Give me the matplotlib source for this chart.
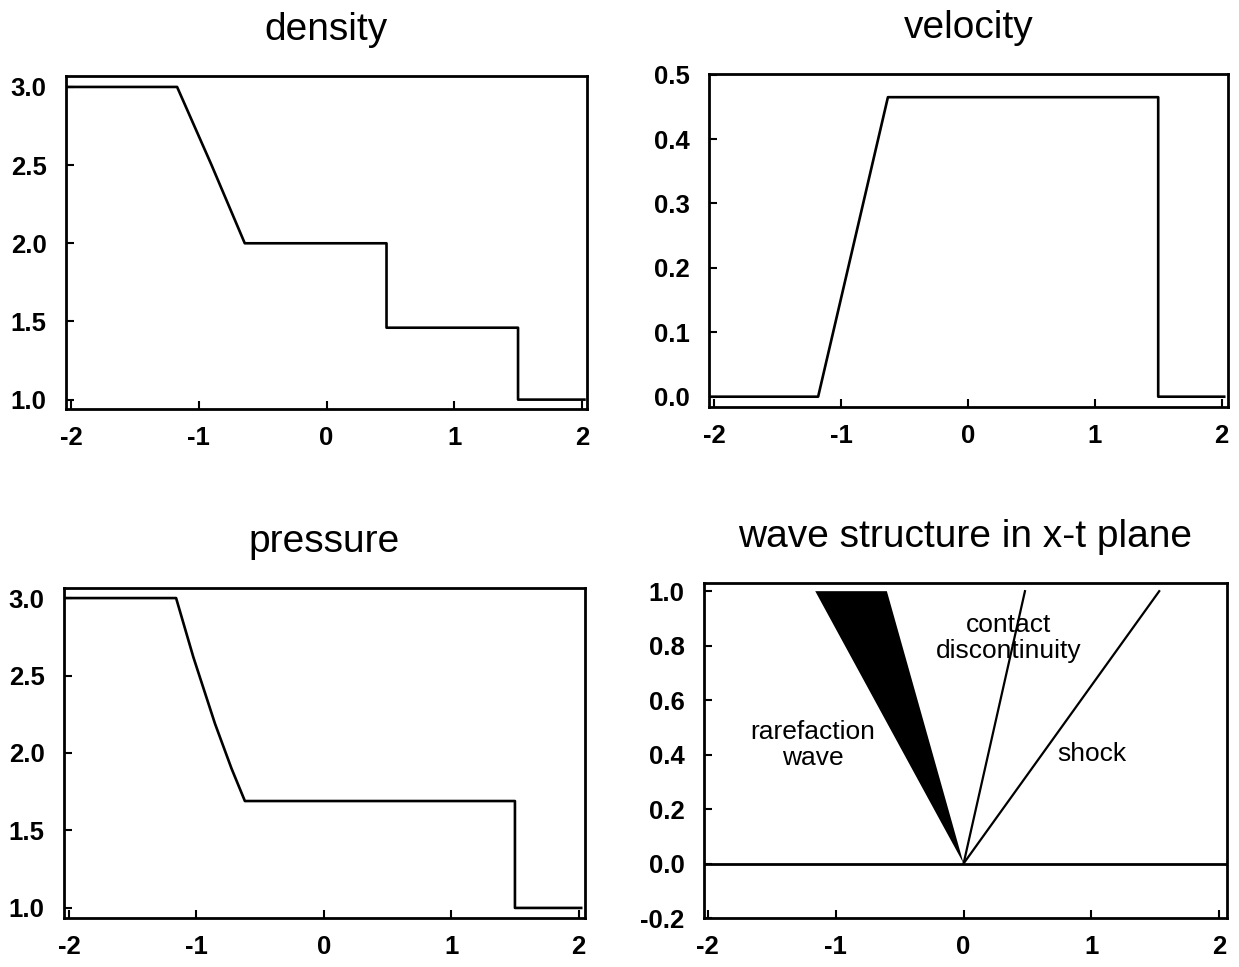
import matplotlib
matplotlib.use("Agg")
import matplotlib.pyplot as plt

plt.rcParams['font.family'] = ['Liberation Sans', 'DejaVu Sans']

# density profile
density_x = [-2.02, -1.17, -0.90, -0.64, 0.47, 0.47, 1.50, 1.50, 2.02]
density_y = [3.0, 3.0, 2.5, 2.0, 2.0, 1.46, 1.46, 1.0, 1.0]

# velocity profile
velocity_x = [-2.02, -1.18, -0.63, 1.50, 1.50, 2.02]
velocity_y = [0.0, 0.0, 0.465, 0.465, 0.0, 0.0]

# pressure profile
pressure_x = [-2.02, -1.16, -1.025, -0.855, -0.725, -0.62, 1.50, 1.50, 2.02]
pressure_y = [3.0, 3.0, 2.62, 2.19, 1.90, 1.69, 1.69, 1.0, 1.0]

# wave structure in x-t plane
fan_x = [0.0, -1.16, -0.60]
fan_t = [0.0, 1.0, 1.0]
contact_x = [0.0, 0.48]
contact_t = [0.0, 1.0]
shock_x = [0.0, 1.53]
shock_t = [0.0, 1.0]
ground_x = [-2.03, 2.07]
ground_t = [0.0, 0.0]

x_ticks = [-2, -1, 0, 1, 2]
x_ticklabels = ['-2', '-1', '0', '1', '2']
rho_ticks = [1.0, 1.5, 2.0, 2.5, 3.0]
vel_ticks = [0.0, 0.1, 0.2, 0.3, 0.4, 0.5]
wave_ticks = [-0.2, 0.0, 0.2, 0.4, 0.6, 0.8, 1.0]

W, H = 1239, 967
fig = plt.figure(figsize=(W / 100, H / 100), dpi=100)


def make_axes(left, top, right, bottom):
    return fig.add_axes([left / W, 1 - bottom / H, (right - left) / W, (bottom - top) / H])


def style(ax, yticks, xlim, ylim, title):
    ax.set_xlim(*xlim)
    ax.set_ylim(*ylim)
    ax.set_xticks(x_ticks)
    ax.set_xticklabels(x_ticklabels)
    ax.set_yticks(yticks)
    ax.set_yticklabels(['%.1f' % v for v in yticks])
    ax.tick_params(direction='in', length=6, width=1.5, labelsize=18.5)
    ax.tick_params(axis='y', pad=14)
    ax.tick_params(axis='x', pad=12)
    for lab in ax.get_xticklabels() + ax.get_yticklabels():
        lab.set_fontweight('bold')
    for sp in ax.spines.values():
        sp.set_linewidth(2)
    ax.set_title(title, fontsize=28, pad=26)


ax1 = make_axes(66, 76, 587, 409)
ax1.plot(density_x, density_y, color='black', lw=1.9)
style(ax1, rho_ticks, (-2.04, 2.04), (0.94, 3.07), 'density')

ax2 = make_axes(709, 74, 1228, 407)
ax2.plot(velocity_x, velocity_y, color='black', lw=1.9)
style(ax2, vel_ticks, (-2.04, 2.05), (-0.016, 0.501), 'velocity')

ax3 = make_axes(64, 588, 585, 918)
ax3.plot(pressure_x, pressure_y, color='black', lw=1.9)
style(ax3, rho_ticks, (-2.04, 2.05), (0.935, 3.065), 'pressure')

ax4 = make_axes(704, 583, 1227, 918)
ax4.fill(fan_x, fan_t, color='black', lw=0)
ax4.plot(contact_x, contact_t, color='black', lw=1.6)
ax4.plot(shock_x, shock_t, color='black', lw=1.6)
ax4.plot(ground_x, ground_t, color='black', lw=2)
ax4.text(0.355, 0.828, 'contact\ndiscontinuity', ha='center', va='center',
         fontsize=19, linespacing=1.1)
ax4.text(-1.18, 0.435, 'rarefaction\nwave', ha='center', va='center',
         fontsize=19, linespacing=1.1)
ax4.text(1.005, 0.403, 'shock', ha='center', va='center', fontsize=19)
style(ax4, wave_ticks, (-2.03, 2.06), (-0.2, 1.03), 'wave structure in x-t plane')

fig.savefig('out.png', dpi=100)
